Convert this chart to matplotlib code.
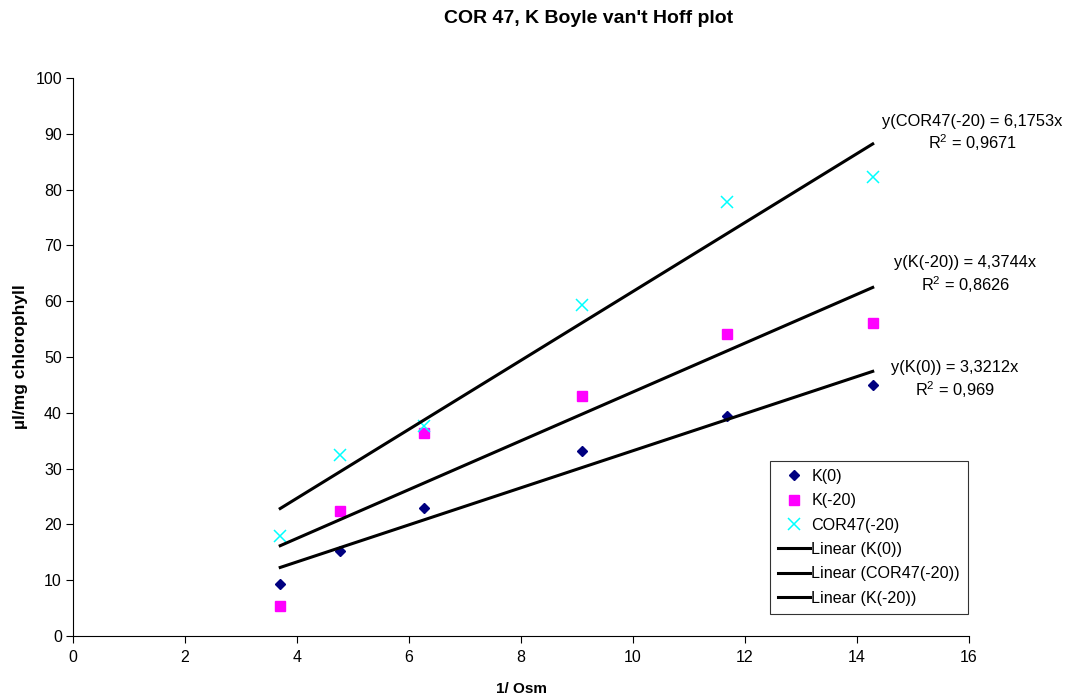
import matplotlib
matplotlib.use("Agg")
import matplotlib.pyplot as plt
import numpy as np

plt.rcParams["font.family"] = ["Liberation Sans", "DejaVu Sans"]
plt.rcParams["mathtext.fontset"] = "custom"
plt.rcParams["mathtext.rm"] = "Liberation Sans"

inv_osm = [3.7, 4.76, 6.26, 9.09, 11.68, 14.28]
k0 = [9.3, 15.2, 23.0, 33.2, 39.4, 44.9]
k20 = [5.4, 22.4, 36.4, 43.1, 54.1, 56.1]
cor47 = [17.9, 32.4, 37.6, 59.4, 77.7, 82.2]

slope_k0 = 3.3212
slope_cor47 = 6.1753
slope_k20 = 4.3744
eq_labels = ["y(K(0)) = 3,3212x\nR$^2$ = 0,969",
             "y(K(-20)) = 4,3744x\nR$^2$ = 0,8626",
             "y(COR47(-20) = 6,1753x\nR$^2$ = 0,9671"]


def make_plot():
    fig = plt.figure(figsize=(10.69, 7.0), dpi=100)
    ax = fig.add_axes([0.0683, 0.0914, 0.8382, 0.7972])

    x = np.array(inv_osm)
    xl = np.array([x.min(), x.max()])

    ax.plot(x, k0, "D", color="#000080", markersize=5.5, label="K(0)")
    ax.plot(x, k20, "s", color="#ff00ff", markersize=7, label="K(-20)")
    ax.plot(x, cor47, "x", color="#00ffff", markersize=8, markeredgewidth=1.1,
            label="COR47(-20)")
    ax.plot(xl, slope_k0 * xl, color="black", lw=2.2, label="Linear (K(0))")
    ax.plot(xl, slope_cor47 * xl, color="black", lw=2.2, label="Linear (COR47(-20))")
    ax.plot(xl, slope_k20 * xl, color="black", lw=2.2, label="Linear (K(-20))")

    ax.text(15.75, 45.95, eq_labels[0], ha="center", va="center", fontsize=11.8,
            linespacing=1.25, clip_on=False)
    ax.text(15.93, 64.75, eq_labels[1], ha="center", va="center", fontsize=11.8,
            linespacing=1.25, clip_on=False)
    ax.text(16.05, 90.05, eq_labels[2], ha="center", va="center", fontsize=11.8,
            linespacing=1.25, clip_on=False)

    ax.set_xlim(0, 16)
    ax.set_ylim(0, 100)
    ax.set_xticks(range(0, 17, 2))
    ax.set_yticks(range(0, 101, 10))
    ax.tick_params(direction="out", length=5, labelsize=11.5, pad=5)
    ax.tick_params(axis="y", pad=3)
    for s in ["top", "right"]:
        ax.spines[s].set_visible(False)

    ax.set_xlabel("1/ Osm", fontsize=11, fontweight="bold", labelpad=12)
    ax.set_ylabel("µl/mg chlorophyll", fontsize=12.5, fontweight="bold", labelpad=5)
    fig.text(0.551, 0.974, "COR 47, K Boyle van't Hoff plot", fontsize=14,
             fontweight="bold", ha="center", va="center")

    leg = ax.legend(loc="upper left", bbox_to_anchor=(0.778, 0.3136), frameon=True,
                    fancybox=False, edgecolor="black", fontsize=11.6,
                    handlelength=1.95, handletextpad=0.1, borderpad=0.5,
                    labelspacing=0.58, borderaxespad=0)
    leg.get_frame().set_linewidth(0.8)

    fig.savefig("out.png", dpi=100)


if __name__ == "__main__":
    make_plot()
